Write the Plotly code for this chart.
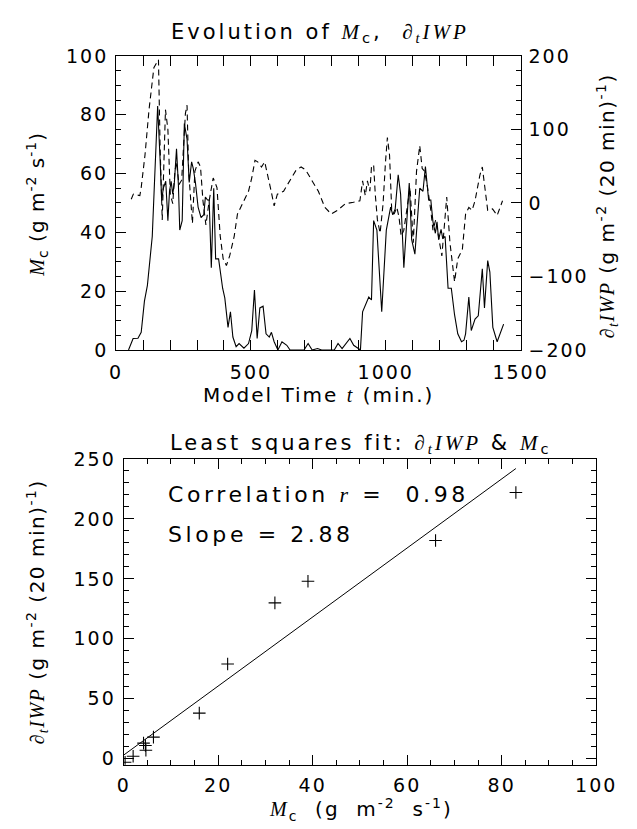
import plotly.graph_objects as go

# ---------------- data ----------------
# Top panel: solid line, M_c (left axis)
time_mc = [46, 63, 81, 93, 105, 116, 134, 154, 163, 169, 175, 184, 192, 198, 204, 210, 216, 224,
           231, 236, 245, 253, 263, 271, 280, 286, 294, 304, 315, 325, 331, 339, 345, 353, 362,
           369, 380, 395, 403, 415, 424, 433, 445, 456, 474, 491, 503, 513, 523, 533, 545, 556,
           568, 576, 586, 600, 615, 633, 645, 697, 712, 727, 747, 762, 809, 823, 838, 867, 881,
           906, 914, 937, 947, 955, 967, 985, 1002, 1018, 1026, 1035, 1046, 1055, 1067, 1076,
           1087, 1096, 1108, 1126, 1138, 1147, 1159, 1167, 1175, 1184, 1190, 1196, 1205, 1211,
           1220, 1231, 1243, 1255, 1267, 1281, 1290, 1296, 1308, 1317, 1331, 1343, 1358, 1366,
           1378, 1386, 1397, 1413, 1437]
mc_values = [0, 3.9, 4, 6, 16.6, 22, 38.6, 83, 65, 50.8, 55, 57.4, 44, 54, 57.4, 53, 57, 68.4,
             56, 40.8, 44, 77, 71.7, 57, 64, 61.8, 57, 48.6, 45, 46, 52, 51, 51, 28, 55,
             31, 31, 21, 17.7, 7.7, 13, 4.4, 1.1, 2.2, 0.6, 2.2, 6.6, 20.4, 3.9, 14.3, 14.9, 5.5,
             4.4, 6, 2.8, 0, 2.8, 1.6, 0, 0, 2.2, 0, 0.5, 0, 0, 2.2, 0.5, 3.9, 1.6,
             0, 13, 18, 17, 44, 40.8, 13, 40.8, 48.6, 46, 48, 59.6, 53, 28, 39.7,
             56.8, 37.5, 32.6, 55, 54, 62.4, 51, 51, 43.6, 39.7, 43.6, 37.5, 41, 38,
             38.6, 21, 21, 12, 5.5, 2.8, 3.3, 5.5, 18, 6.6, 10.5, 11.6, 27.6, 14.3,
             30.4, 26.5, 7.7, 2.8, 8.8]

# Top panel: dashed line, d_t IWP (right axis)
time_diwp = [56, 64, 88, 93, 107, 122, 140, 157, 163, 171, 177, 183, 192, 201, 210, 218, 224,
             233, 243, 257, 263, 269, 283, 292, 304, 313, 322, 333, 345, 360, 374, 386, 397,
             409, 421, 438, 450, 468, 480, 491, 503, 515, 525, 539, 551, 563, 575, 586, 598,
             621, 645, 668, 686, 703, 727, 750, 774, 798, 821, 850, 880, 904, 914, 924, 932,
             941, 947, 955, 961, 969, 979, 990, 999, 1006, 1014, 1022, 1031, 1041, 1049, 1057,
             1067, 1078, 1090, 1102, 1114, 1126, 1135, 1144, 1155, 1167, 1175, 1185, 1196,
             1208, 1226, 1238, 1255, 1267, 1284, 1296, 1308, 1320, 1331, 1349, 1358, 1366,
             1378, 1396, 1413, 1433]
diwp_values = [5, 12, 10, 21, 65, 127, 184, 195, 78, -23, 52, 127, 100, 12, -1, 43, 56,
               25, 31, 122, 133, 43, -28, 43, 56, 49, 3, -30, 3, 34, 21, -45, -76,
               -85, -72, -45, -15, -1, 7, 16, 34, 58, 56, 49, 56, 38, 16, -4, 12,
               16, 30, 45, 49, 45, 30, 16, -6, -15, -10, -1, 1, 3, 30, 10, 30,
               16, 49, 52, 12, -23, -41, -1, 56, 89, 65, -10, -15, -6, -19, -45,
               -37, -10, 21, -54, 43, 78, 47, 43, 21, -10, -37, -23, -45,
               -72, 8, -54, -107, -76, -63, -15, -6, -10, 3, 38, 49, 25,
               -10, -8, -17, 3]

# Bottom panel: scatter points and least-squares fit
scatter_mc = [83, 66, 39, 32, 22, 16, 6.3, 4.2, 4.6, 4.7, 2, 0.3]
scatter_diwp = [222, 182, 148, 130, 79, 38, 18, 13, 11, 7, 2, -3]
fit_slope = 2.88
fit_intercept = 3.0
fit_mc = [0, 83]
correlation = 0.98

# tick labels
top_x_ticks = [0, 500, 1000, 1500]
top_y_ticks = [0, 20, 40, 60, 80, 100]
top_y2_ticks = [-200, -100, 0, 100, 200]
bot_x_ticks = [0, 20, 40, 60, 80, 100]
bot_y_ticks = [0, 50, 100, 150, 200, 250]

# ---------------- helpers ----------------
W, H = 637, 829


def px_x(p):
    return p / W


def px_y(p):
    return 1 - p / H


def it(s):
    return f'<span style="font-family:Liberation Serif;font-style:italic">{s}</span>'


def ls(s, px):
    return f'<span style="letter-spacing:{px}px">{s}</span>'


def tick_text(vals, px=2):
    return [ls(str(v).replace('-', '−'), px) for v in vals]


MC = it('M') + '<sub>c</sub>'
DIWP = it('∂') + '<sub>' + it('t') + '</sub>' + it('IWP')
UNIT_MC = '(g m<sup>-2</sup> s<sup>-1</sup>)'
UNIT_DIWP = '(g m<sup>-2</sup> (20 min)<sup>-1</sup>)'

FONT = 'DejaVu Sans'
TICKFONT = dict(family=FONT, size=19, color='black')

fit_values = [fit_intercept + fit_slope * m for m in fit_mc]

fig = go.Figure()
fig.add_trace(go.Scatter(x=time_mc, y=mc_values, mode='lines',
                         line=dict(color='black', width=1.1), xaxis='x', yaxis='y',
                         showlegend=False))
fig.add_trace(go.Scatter(x=time_diwp, y=diwp_values, mode='lines',
                         line=dict(color='black', width=1.1, dash='6px,4px'),
                         xaxis='x', yaxis='y2', showlegend=False))
fig.add_trace(go.Scatter(x=scatter_mc, y=scatter_diwp, mode='markers',
                         marker=dict(symbol='cross-thin', size=9, color='black',
                                     line=dict(color='black', width=1.1)),
                         xaxis='x2', yaxis='y3', showlegend=False))
fig.add_trace(go.Scatter(x=fit_mc, y=fit_values, mode='lines',
                         line=dict(color='black', width=1.0), xaxis='x2', yaxis='y3',
                         showlegend=False))

axis_common = dict(showgrid=False, zeroline=False, showline=True, linecolor='black',
                   linewidth=1.2, ticks='inside', ticklen=10, tickwidth=1, tickcolor='black',
                   tickfont=TICKFONT)

fig.update_layout(
    width=W, height=H,
    margin=dict(l=0, r=0, t=0, b=0),
    paper_bgcolor='white', plot_bgcolor='white',
    font=dict(family=FONT, size=19, color='black'),
    xaxis=dict(domain=[px_x(107), px_x(535)], anchor='y', range=[0, 1500],
               tickvals=top_x_ticks, ticktext=tick_text(top_x_ticks), mirror='allticks',
               minor=dict(dtick=100, ticks='inside', ticklen=5, tickcolor='black'),
               ticklabelstandoff=5, **axis_common),
    yaxis=dict(domain=[px_y(340), px_y(38)], anchor='x', range=[0, 100],
               tickvals=top_y_ticks, ticktext=tick_text(top_y_ticks),
               minor=dict(dtick=5, ticks='inside', ticklen=5, tickcolor='black'),
               ticklabelstandoff=3, **axis_common),
    yaxis2=dict(overlaying='y', side='right', anchor='x', range=[-200, 200],
                tickvals=top_y2_ticks, ticktext=tick_text(top_y2_ticks),
                minor=dict(dtick=20, ticks='inside', ticklen=5, tickcolor='black'),
                ticklabelstandoff=3, **axis_common),
    xaxis2=dict(domain=[px_x(115), px_x(615)], anchor='y3', range=[0, 100],
                tickvals=bot_x_ticks, ticktext=tick_text(bot_x_ticks), mirror='allticks',
                minor=dict(dtick=5, ticks='inside', ticklen=5, tickcolor='black'),
                ticklabelstandoff=3, **axis_common),
    yaxis3=dict(domain=[px_y(766), px_y(452)], anchor='x2', range=[-5, 250],
                tickvals=bot_y_ticks, ticktext=tick_text(bot_y_ticks), mirror='allticks',
                minor=dict(dtick=10, ticks='inside', ticklen=5, tickcolor='black'),
                ticklabelstandoff=3, **axis_common),
)

ann = [
    dict(text=ls('Evolution of ' + MC + ',  ' + DIWP, 3), x=px_x(323), y=px_y(14), size=21),
    dict(text=ls('Model Time ' + it('t') + ' (min.)', 2), x=px_x(321), y=px_y(386), size=20),
    dict(text=ls(MC + ' ' + UNIT_MC, 1), x=px_x(24), y=px_y(190), size=20, angle=-90),
    dict(text=ls(DIWP + ' ' + UNIT_DIWP, 1.5), x=px_x(627), y=px_y(192), size=20, angle=-90),
    dict(text=ls('Least squares fit: ' + DIWP + ' &amp; ' + MC, 3), x=px_x(366), y=px_y(437),
         size=21),
    dict(text=ls(MC + '  (g  m<sup>-2</sup>  s<sup>-1</sup>)', 2), x=px_x(366), y=px_y(812),
         size=20),
    dict(text=ls(DIWP + ' ' + UNIT_DIWP, 1.5), x=px_x(24), y=px_y(609), size=20, angle=-90),
]
annotations = []
for a in ann:
    annotations.append(dict(text=a['text'], x=a['x'], y=a['y'], xref='paper', yref='paper',
                            xanchor='center', yanchor='middle', showarrow=False,
                            textangle=a.get('angle', 0),
                            font=dict(family=FONT, size=a['size'], color='black')))

annotations.append(dict(text=ls('Correlation ' + it('r') + ' =  ' + f'{correlation:.2f}', 3.6),
                        x=px_x(160), y=px_y(488), xref='paper', yref='paper',
                        xanchor='left', yanchor='middle', showarrow=False,
                        font=dict(family=FONT, size=22, color='black')))
annotations.append(dict(text=ls(f'Slope = {fit_slope:.2f}', 3.6),
                        x=px_x(160), y=px_y(530), xref='paper', yref='paper',
                        xanchor='left', yanchor='middle', showarrow=False,
                        font=dict(family=FONT, size=22, color='black')))
fig.update_layout(annotations=annotations)

fig.write_html('out.html')
